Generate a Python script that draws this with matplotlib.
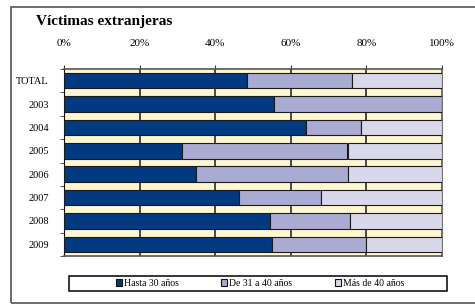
import matplotlib
matplotlib.use('Agg')
import matplotlib.pyplot as plt
import numpy as np
from matplotlib.patches import Rectangle, Patch

plt.rcParams['font.family'] = ['Liberation Serif', 'DejaVu Serif']

categories = ['TOTAL', '2003', '2004', '2005', '2006', '2007', '2008', '2009']
hasta_30 = [48.4, 55.5, 64.1, 31.2, 35.0, 46.4, 54.5, 55.0]
de_31_40 = [27.9, 44.5, 14.4, 43.8, 40.0, 21.5, 21.1, 25.0]
mas_40 = [23.7, 0.0, 21.5, 25.0, 25.0, 32.1, 24.4, 20.0]
series_names = ['Hasta 30 años', 'De 31 a 40 años', 'Más de 40 años']
colors = ['#023A82', '#A9ABD2', '#D9D8EA']
xticks = [0, 20, 40, 60, 80, 100]

fig = plt.figure(figsize=(4.75, 3.05), dpi=100)
ax = fig.add_axes([64 / 475, 1 - 256 / 305, 378 / 475, 187 / 305])
ax.set_facecolor('#FFF7D2')

y = np.arange(len(categories))
left = np.zeros(len(categories))
for vals, name, c in zip([hasta_30, de_31_40, mas_40], series_names, colors):
    ax.barh(y, vals, left=left, height=0.66, color=c, edgecolor='#1a1a1a',
            linewidth=0.8, label=name, zorder=3)
    left += np.array(vals)

ax.set_xlim(0, 100)
ax.set_ylim(len(categories) - 0.5, -0.5)
for xv in xticks[1:-1]:
    ax.axvline(xv, color='#3a3a3a', lw=1.3, zorder=1)

ax.xaxis.tick_top()
ax.set_xticks(xticks)
ax.set_xticklabels([f'{v}%' for v in xticks], fontsize=8)
ax.tick_params(axis='x', top=True, direction='out', length=3, pad=12, color='#333333')

ax.set_yticks(y)
ax.set_yticklabels(categories, fontsize=7.5)
ax.tick_params(axis='y', which='major', length=0, pad=11)
ax.set_yticks(np.arange(-0.5, len(categories)), minor=True)
ax.tick_params(axis='y', which='minor', length=3, direction='out', color='#333333')

for s in ['top', 'right', 'bottom']:
    ax.spines[s].set_color('#555555')
    ax.spines[s].set_linewidth(1.2)
ax.spines['left'].set_color('#111111')

fig.text(36 / 475, 1 - 21 / 305, 'Víctimas extranjeras', fontsize=11,
         fontweight='bold', va='center', ha='left')

handles = [Patch(facecolor=c, edgecolor='#111111', linewidth=0.8) for c in colors]
leg = fig.legend(handles, series_names, loc='center',
                 bbox_to_anchor=(260 / 475, 1 - 283.5 / 305), ncol=3, fontsize=7,
                 frameon=False, handlelength=0.6, handleheight=0.6,
                 handletextpad=0.2, columnspacing=4.4, borderpad=0.35)

fig.patches.append(Rectangle((69 / 475, 1 - 291 / 305), 378 / 475, 15 / 305,
                             transform=fig.transFigure, fill=False,
                             edgecolor='black', linewidth=1.1))
fig.patches.append(Rectangle((11 / 475, 1 - 302.5 / 305), 470 / 475, 296 / 305,
                             transform=fig.transFigure, fill=False,
                             edgecolor='#555555', linewidth=1.2))

fig.savefig('out.png', dpi=100)
